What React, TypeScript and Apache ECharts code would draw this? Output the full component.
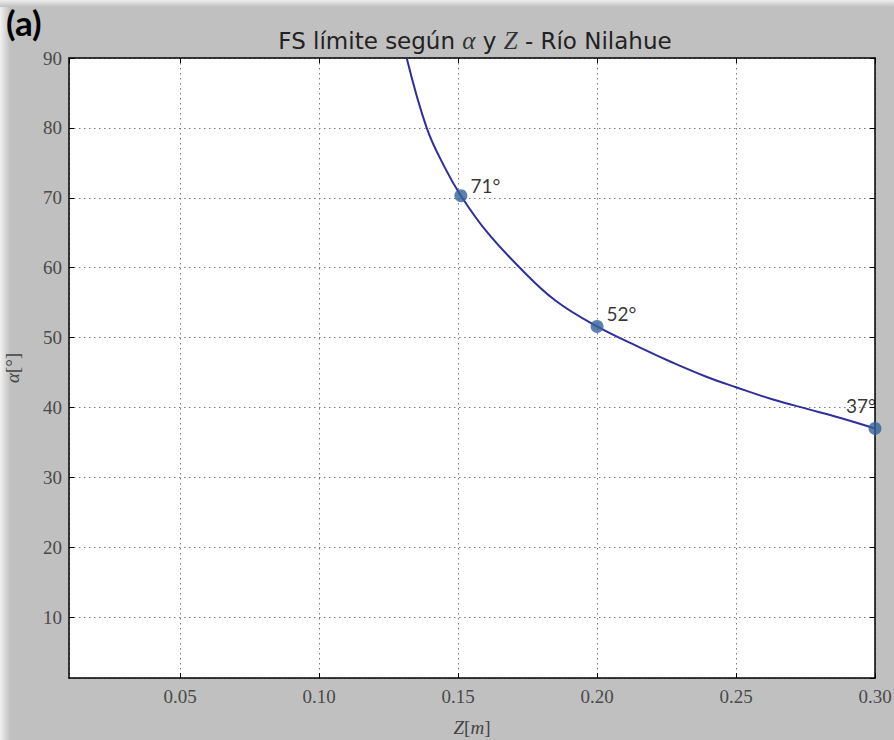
import React, { useEffect, useRef } from "react";
import * as echarts from "echarts";

// Curve: Z [m] vs alpha [deg]
const curveZ = [0.1315, 0.1387, 0.145, 0.151, 0.16, 0.1722, 0.185, 0.2, 0.2153, 0.2273, 0.2393, 0.25, 0.2636, 0.2756, 0.2876, 0.3];
const curveAlpha = [90, 80, 74.5, 70.3, 65.3, 60, 55.3, 51.6, 48.6, 46.4, 44.4, 42.9, 41.1, 39.8, 38.5, 37.0];

// Highlighted points
const markZ = [0.151, 0.2, 0.3];
const markAlpha = [70.3, 51.6, 37.0];
const markLabels = ["71°", "52°", "37°"];

const xMin = 0.01;
const xMax = 0.3;
const yMin = 1.3;
const yMax = 90;

export default function App() {
  const ref = useRef<HTMLDivElement>(null);
  useEffect(() => {
    if (!ref.current) return;
    const chart = echarts.init(ref.current, undefined, { renderer: "svg" });
    const tickFont = {
      fontFamily: "'Liberation Serif', 'DejaVu Serif', serif",
      fontSize: 19,
      color: "#4a4a4a",
    };
    const gridLine = { show: true, lineStyle: { color: "#7a7a7a", type: [1.5, 3.5] as any, width: 1 } };
    const labelPos = [
      { position: "right", offset: [-2, -10] },
      { position: "right", offset: [-2, -13] },
      { position: "top", offset: [-14, -2] },
    ];
    chart.setOption({
      animation: false,
      backgroundColor: "#c0c0c0",
      graphic: [
        {
          type: "rect",
          shape: { x: 0, y: 0, width: 10, height: 740 },
          style: {
            fill: new echarts.graphic.LinearGradient(0, 0, 1, 0, [
              { offset: 0, color: "#f2f2f2" },
              { offset: 1, color: "#c0c0c0" },
            ]),
          },
          silent: true,
        },
        {
          type: "rect",
          shape: { x: 0, y: 0, width: 894, height: 7 },
          style: {
            fill: new echarts.graphic.LinearGradient(0, 0, 0, 1, [
              { offset: 0, color: "#eeeeee" },
              { offset: 1, color: "#c0c0c0" },
            ]),
          },
          silent: true,
        },
        {
          type: "text",
          left: 6,
          top: 4,
          style: {
            text: "(a)",
            font: "bold 35px Lato, 'Open Sans', sans-serif",
            fill: "#000",
          },
        },
      ],
      title: {
        text: "{a|FS límite según }{m|α}{a| y }{m|Z}{a| - Río Nilahue}",
        left: 470,
        textAlign: "center",
        top: 23,
        textStyle: {
          rich: {
            a: { fontFamily: "'DejaVu Sans', sans-serif", fontWeight: "normal", fontSize: 23, color: "#222" },
            m: { fontFamily: "'Liberation Serif', serif", fontStyle: "italic", fontWeight: "normal", fontSize: 25, color: "#333" },
          },
        },
      },
      grid: {
        left: 69,
        top: 58,
        right: 19,
        bottom: 62,
        backgroundColor: "#fff",
        show: true,
        borderWidth: 0,
        outerBoundsMode: "none",
        containLabel: false,
      },
      xAxis: [
        {
          type: "value",
          min: xMin,
          max: xMax,
          splitNumber: 6,
          minInterval: 0.05,
          maxInterval: 0.05,
          axisLine: { show: true, onZero: false, lineStyle: { color: "#000", width: 1.5 } },
          axisTick: { show: true, inside: true, length: 5, lineStyle: { color: "#000" } },
          axisLabel: {
            ...tickFont,
            margin: 9,
            showMinLabel: false,
            formatter: (v: number) => v.toFixed(2),
          },
          splitLine: gridLine,
          name: "{i|Z}{n|[}{i|m}{n|]}",
          nameLocation: "middle",
          nameGap: 40,
          nameTextStyle: {
            rich: {
              i: { fontFamily: "'Liberation Serif', serif", fontStyle: "italic", fontSize: 19, color: "#444" },
              n: { fontFamily: "'Liberation Serif', serif", fontSize: 19, color: "#444" },
            },
          },
        },
        {
          type: "value",
          position: "top",
          min: xMin,
          max: xMax,
          splitNumber: 6,
          minInterval: 0.05,
          maxInterval: 0.05,
          axisLine: { show: true, onZero: false, lineStyle: { color: "#000", width: 1.5 } },
          axisTick: { show: true, inside: true, length: 5, lineStyle: { color: "#000" } },
          axisLabel: { show: false },
          splitLine: { show: false },
        },
      ],
      yAxis: [
        {
          type: "value",
          min: yMin,
          max: yMax,
          splitNumber: 9,
          minInterval: 10,
          maxInterval: 10,
          axisLine: { show: true, onZero: false, lineStyle: { color: "#000", width: 1.5 } },
          axisTick: { show: true, inside: true, length: 5, lineStyle: { color: "#000" } },
          axisLabel: { ...tickFont, margin: 7, showMinLabel: false },
          splitLine: gridLine,
          name: "{i|α}{n|[°]}",
          nameLocation: "middle",
          nameGap: 47,
          nameRotate: 90,
          nameTextStyle: {
            rich: {
              i: { fontFamily: "'Liberation Serif', serif", fontStyle: "italic", fontSize: 19, color: "#444" },
              n: { fontFamily: "'Liberation Serif', serif", fontSize: 19, color: "#444" },
            },
          },
        },
        {
          type: "value",
          position: "right",
          min: yMin,
          max: yMax,
          splitNumber: 9,
          minInterval: 10,
          maxInterval: 10,
          axisLine: { show: true, onZero: false, lineStyle: { color: "#000", width: 1.5 } },
          axisTick: { show: true, inside: true, length: 5, lineStyle: { color: "#000" } },
          axisLabel: { show: false },
          splitLine: { show: false },
        },
      ],
      series: [
        {
          type: "line",
          data: curveZ.map((z, i) => [z, curveAlpha[i]]),
          smooth: 0.4,
          showSymbol: false,
          clip: true,
          lineStyle: { color: "#2f2f9c", width: 2 },
          z: 3,
        },
        {
          type: "scatter",
          data: markZ.map((z, i) => ({
            value: [z, markAlpha[i]],
            label: {
              show: true,
              formatter: markLabels[i],
              position: labelPos[i].position,
              offset: labelPos[i].offset,
            },
          })),
          symbolSize: 13,
          clip: false,
          itemStyle: { color: "#34629a" },
          label: {
            fontFamily: "Lato, 'Open Sans', sans-serif",
            fontSize: 19,
            color: "#000",
          },
          z: 4,
        },
      ],
    });
    return () => chart.dispose();
  }, []);
  return (
    <div
      ref={ref}
      style={{ position: "absolute", left: 0, top: 0, width: 894, height: 740 }}
    />
  );
}
